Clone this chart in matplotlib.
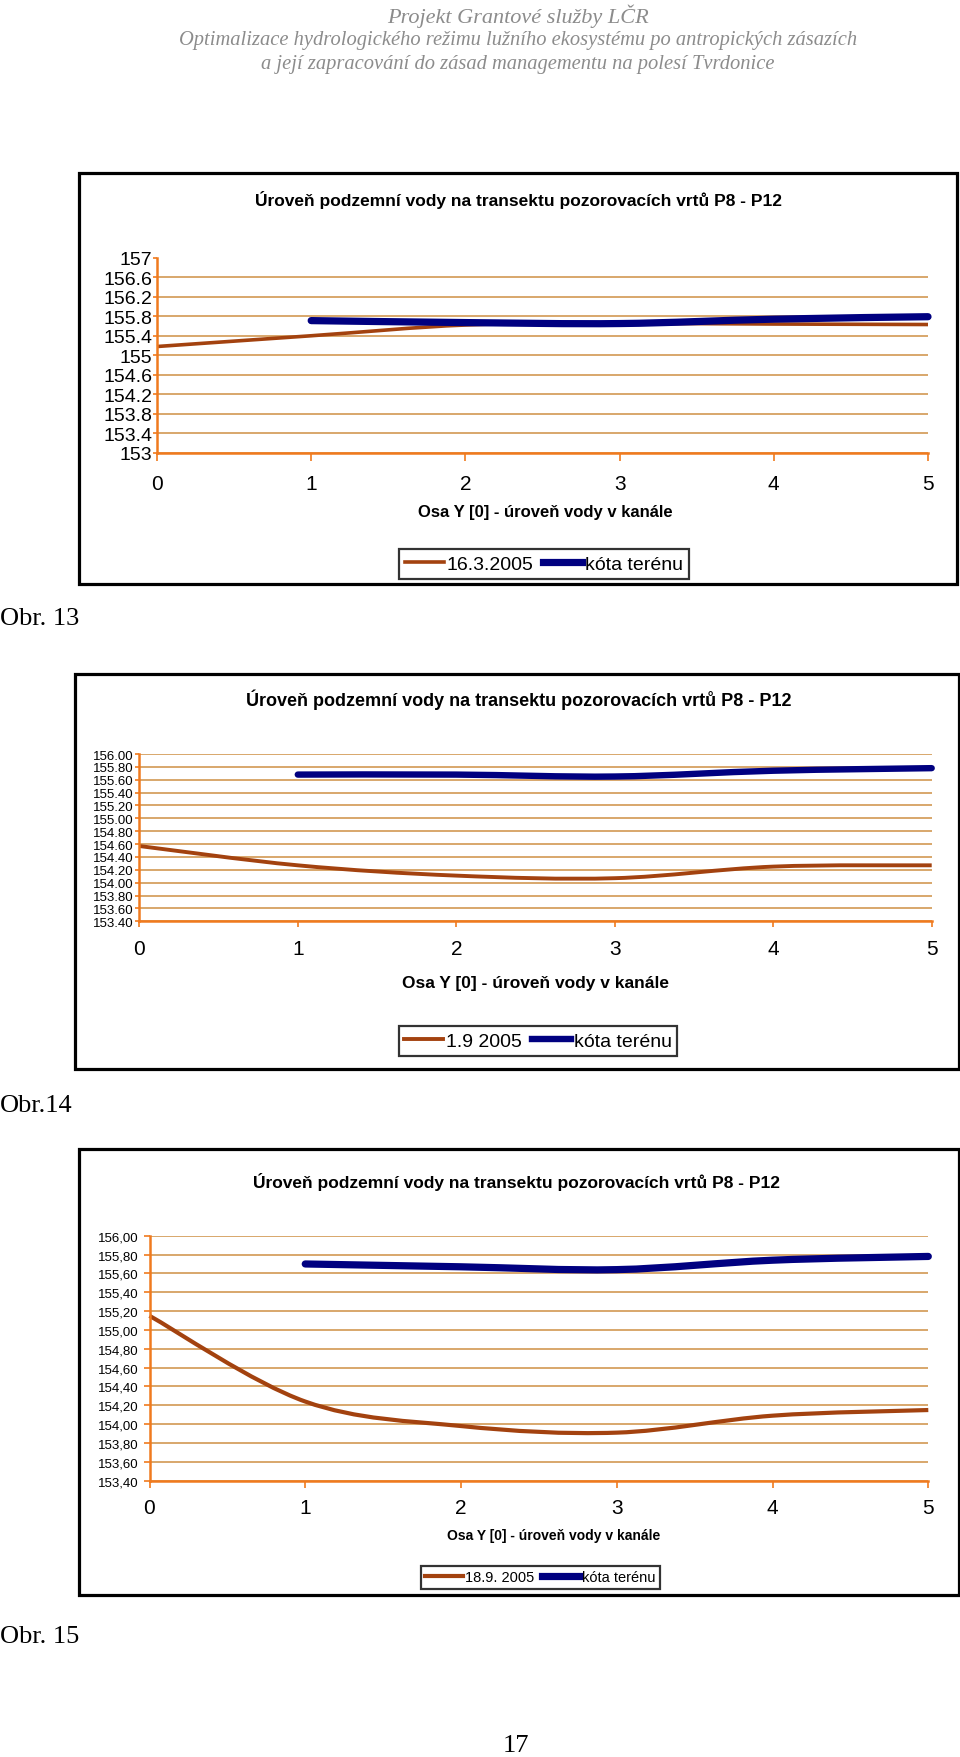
import numpy as np
import matplotlib
matplotlib.use("Agg")
import matplotlib.pyplot as plt
from matplotlib.path import Path
from matplotlib.patches import PathPatch, Rectangle
from matplotlib.lines import Line2D

# data
x_pos = [0, 1, 2, 3, 4, 5]
x_teren = [1, 2, 3, 4, 5]

hladina_13 = [155.18, 155.40, 155.62, 155.65, 155.64, 155.63]
teren_13 = [155.71, 155.67, 155.65, 155.74, 155.79]
yticks_13 = [153, 153.4, 153.8, 154.2, 154.6, 155, 155.4, 155.8, 156.2, 156.6, 157]

hladina_14 = [154.57, 154.27, 154.11, 154.07, 154.25, 154.27]
teren_14 = [155.68, 155.68, 155.65, 155.74, 155.78]
yticks_14 = [153.4, 153.6, 153.8, 154.0, 154.2, 154.4, 154.6, 154.8,
             155.0, 155.2, 155.4, 155.6, 155.8, 156.0]

hladina_15 = [155.15, 154.24, 153.98, 153.91, 154.09, 154.15]
teren_15 = [155.70, 155.67, 155.64, 155.74, 155.78]
yticks_15 = yticks_14

datum_13 = "16.3.2005"
datum_14 = "1.9 2005"
datum_15 = "18.9. 2005"

titul = "Úroveň podzemní vody na transektu pozorovacích vrtů P8 - P12"
osa_x = "Osa Y [0] - úroveň vody v kanále"

W, H = 960., 1758.
BROWN = "#A3420F"
BLUE = "#000080"
AXC = "#F07A1E"
GRIDC = "#D6A060"

def fx(x):
    return x / W

def fy(y):
    return 1 - y / H

def smooth_path(xs, ys):
    # excel-like smoothed line: bezier segments through the data points
    pts = np.column_stack([xs, ys]).astype(float)
    verts = [pts[0]]
    codes = [Path.MOVETO]
    n = len(pts)
    for i in range(n - 1):
        p0 = pts[i - 1] if i > 0 else pts[i]
        p1 = pts[i]
        p2 = pts[i + 1]
        p3 = pts[i + 2] if i + 2 < n else pts[i + 1]
        verts += [p1 + (p2 - p0) / 6., p2 - (p3 - p1) / 6., p2]
        codes += [Path.CURVE4] * 3
    return Path(verts, codes)

fig = plt.figure(figsize=(9.6, 17.58), dpi=100)

# page header
hdr = dict(family="Liberation Serif", style="italic", color="#8c8c8c", ha="center", va="center")
fig.text(fx(518), fy(16), "Projekt Grantové služby LČR", size=16, **hdr)
fig.text(fx(518), fy(40), "Optimalizace hydrologického režimu lužního ekosystému po antropických zásazích", size=14.8, **hdr)
fig.text(fx(518), fy(64), "a její zapracování do zásad managementu na polesí Tvrdonice", size=14.8, **hdr)

charts = [
    dict(frame=(78.5, 174, 956.7, 585.4), ax=(157, 258.6, 928, 454),
         hl=hladina_13, te=teren_13, yt=yticks_13, fmt=lambda v: "%g" % v,
         ylim=(153, 157), ysize=14, ylen=3, ypad=0.5, xsize=15, xlen=6, xpad=9,
         title=(518.5, 200, 12.5), xl=(545, 513, 12), leg=(544, 565, 14), datum=datum_13,
         lw=(2.6, 5.2), topgrid=False, hlen=2.0),
    dict(frame=(75, 675, 959, 1070), ax=(139.3, 755, 931.7, 922.3),
         hl=hladina_14, te=teren_14, yt=yticks_14, fmt=lambda v: "%.2f" % v,
         ylim=(153.4, 156.0), ysize=9.5, ylen=3, ypad=1, xsize=15, xlen=4, xpad=8.5,
         title=(518.5, 700, 13), xl=(536, 984, 12.5), leg=(538, 1042, 14), datum=datum_14,
         lw=(2.8, 4.6), topgrid=True, hlen=2.0),
    dict(frame=(78.5, 1149.5, 959, 1596), ax=(149.5, 1236.7, 928.3, 1481.7),
         hl=hladina_15, te=teren_15, yt=yticks_15, fmt=lambda v: ("%.2f" % v).replace(".", ","),
         ylim=(153.4, 156.0), ysize=9.5, ylen=4, ypad=4, xsize=15, xlen=5, xpad=7.5,
         title=(516.5, 1182, 12.5), xl=(554, 1536, 10), leg=(540, 1578.5, 10.5), datum=datum_15,
         lw=(3.0, 5.2), topgrid=True, hlen=2.6),
]

for c in charts:
    x0, y0, x1, y1 = c["frame"]
    fig.add_artist(Rectangle((fx(x0), fy(y1)), (x1 - x0) / W, (y1 - y0) / H,
                             transform=fig.transFigure, fill=False, lw=2.3, edgecolor="black"))
    ax_l, ax_t, ax_r, ax_b = c["ax"]
    ax = fig.add_axes([fx(ax_l), fy(ax_b), (ax_r - ax_l) / W, (ax_b - ax_t) / H])
    ax.set_xlim(0, 5)
    ax.set_ylim(*c["ylim"])
    ax.set_yticks(c["yt"])
    ax.set_yticklabels([c["fmt"](v) for v in c["yt"]], family="Liberation Sans", size=c["ysize"])
    ax.set_xticks(x_pos)
    ax.set_xticklabels([str(v) for v in x_pos], family="Liberation Sans", size=c["xsize"])
    for s in ["top", "right"]:
        ax.spines[s].set_visible(False)
    for s in ["left", "bottom"]:
        ax.spines[s].set_color(AXC)
        ax.spines[s].set_linewidth(1.8)
    ax.tick_params(axis="y", colors=AXC, length=c["ylen"], width=1.2, pad=c["ypad"], labelcolor="black")
    ax.tick_params(axis="x", colors=AXC, length=c["xlen"], width=1.2, pad=c["xpad"], labelcolor="black")
    ax.yaxis.grid(True, color=GRIDC, lw=1.3)
    if not c["topgrid"]:
        ax.get_ygridlines()[-1].set_visible(False)
    ax.set_axisbelow(True)
    ax.patch.set_alpha(0)

    ax.add_patch(PathPatch(smooth_path(x_pos, c["hl"]), fill=False, edgecolor=BROWN,
                           lw=c["lw"][0], capstyle="butt", joinstyle="round", clip_on=False))
    ax.add_patch(PathPatch(smooth_path(x_teren, c["te"]), fill=False, edgecolor=BLUE,
                           lw=c["lw"][1], capstyle="round", joinstyle="round", clip_on=False))

    tx, ty, ts = c["title"]
    fig.text(fx(tx), fy(ty), titul, family="Liberation Sans", weight="bold", size=ts,
             ha="center", va="center")
    lx, ly, ls = c["xl"]
    fig.text(fx(lx), fy(ly), osa_x, family="Liberation Sans", weight="bold", size=ls,
             ha="center", va="center")

    gx, gy, gs = c["leg"]
    handles = [Line2D([], [], color=BROWN, lw=c["lw"][0]),
               Line2D([], [], color=BLUE, lw=c["lw"][1])]
    leg = ax.legend(handles, [c["datum"], "kóta terénu"], loc="center",
                    bbox_to_anchor=(fx(gx), fy(gy)), bbox_transform=fig.transFigure,
                    ncol=2, frameon=True, fancybox=False, handlelength=c["hlen"],
                    handletextpad=0.15, columnspacing=0.5, borderpad=0.3,
                    prop=dict(family="Liberation Sans", size=gs))
    leg.get_frame().set_edgecolor("black")
    leg.get_frame().set_linewidth(1.6)

pg = dict(family="Liberation Serif", size=19, va="center")
fig.text(0.0, fy(619), "Obr. 13", ha="left", **pg)
fig.text(0.0, fy(1106), "Obr.14", ha="left", **pg)
fig.text(0.0, fy(1637), "Obr. 15", ha="left", **pg)
fig.text(fx(516), fy(1746), "17", ha="center", **pg)

fig.savefig("out.png", dpi=100, facecolor="white")
